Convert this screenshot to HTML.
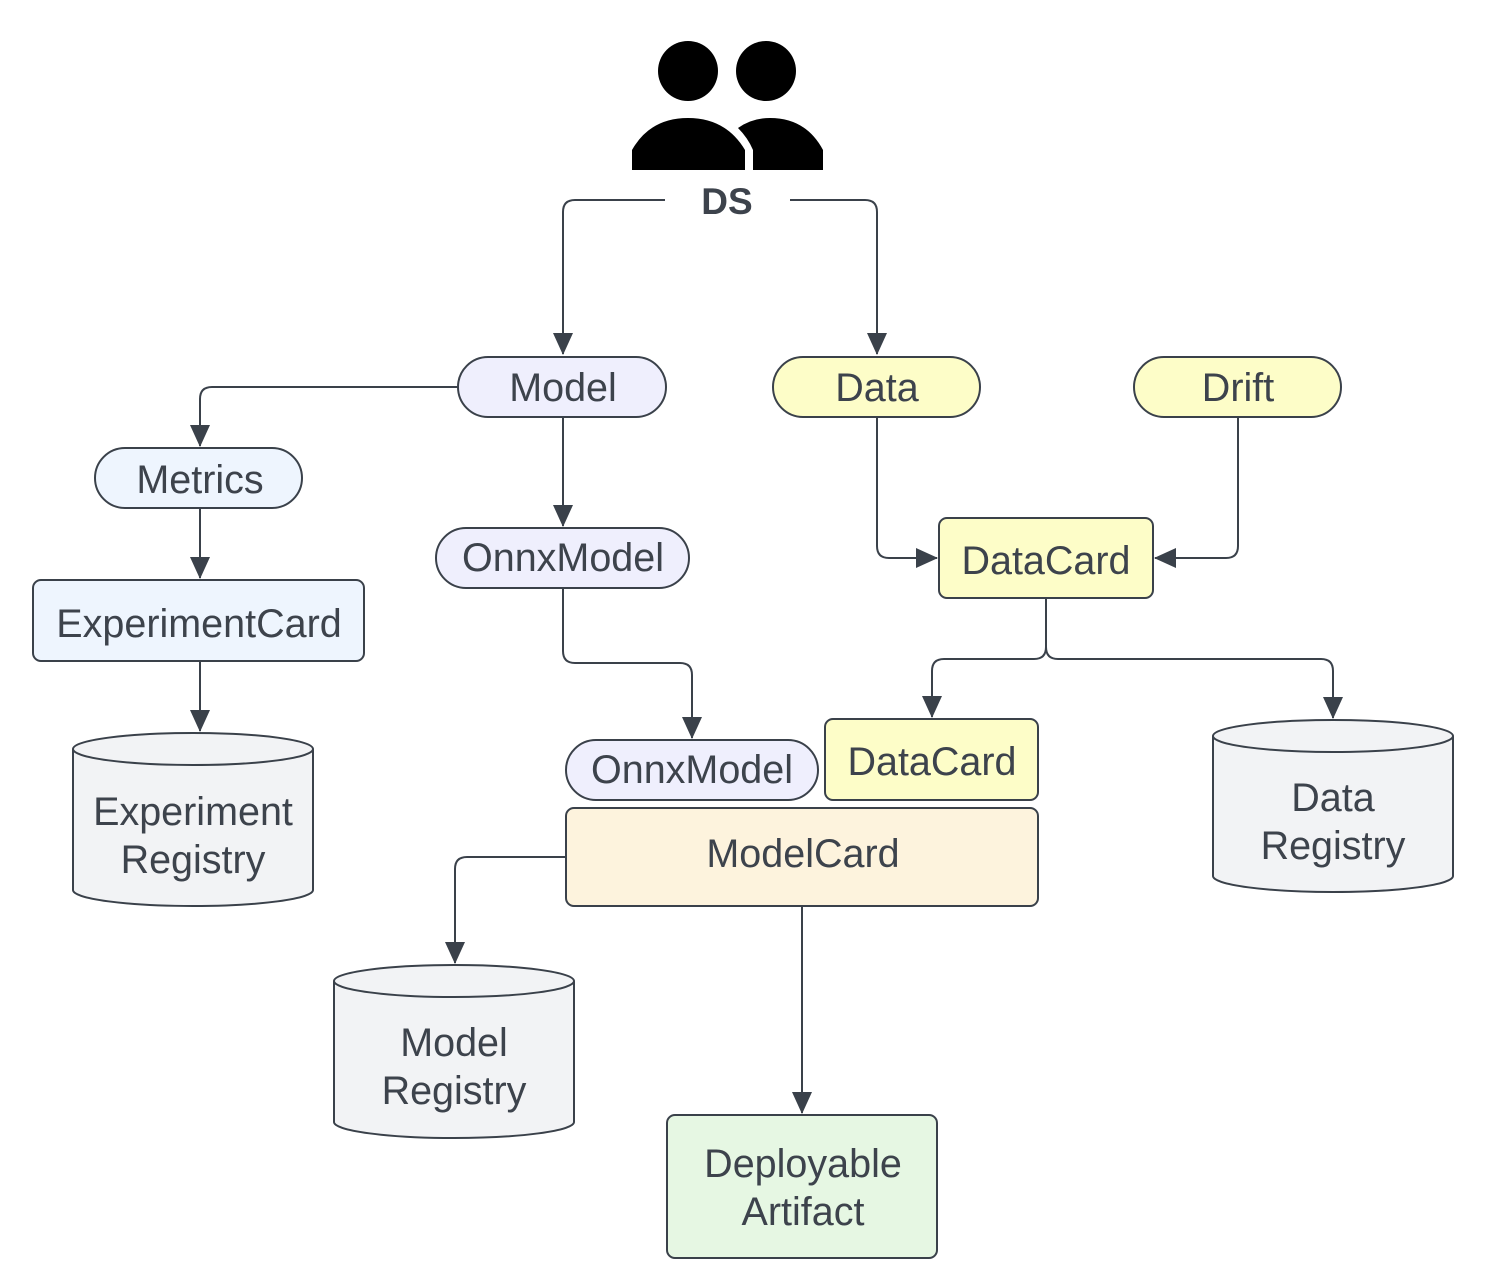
<!DOCTYPE html>
<html><head><meta charset="utf-8"><style>html,body{margin:0;padding:0;background:#fff}svg{display:block}text{font-family:"Liberation Sans",sans-serif;fill:#3d434c}</style></head><body>
<svg width="1488" height="1280" viewBox="0 0 1488 1280" xmlns="http://www.w3.org/2000/svg">
<defs>
<marker id="r" viewBox="0 0 22 20" refX="21" refY="10" markerWidth="22" markerHeight="20" markerUnits="userSpaceOnUse" orient="auto"><path d="M0,0 L22,10 L0,20 Z" fill="#3a414a"/></marker></defs>
<g fill="#000">
<circle cx="688" cy="71" r="30"/><circle cx="766" cy="71" r="30"/>
<path d="M632,170 L632,150 Q650,118 688,118 Q726,118 745,150 L745,170 Z"/>
<path d="M753,170 L753,150 Q748,138 738,128 Q752,118 770,118 Q806,118 823,150 L823,170 Z"/>
</g>
<text x="727" y="214" font-size="37" font-weight="bold" text-anchor="middle">DS</text>
<g fill="none" stroke="#3a414a" stroke-width="2">
<path d="M665,200 H575 Q563,200 563,212 V354" marker-end="url(#r)"/>
<path d="M790,200 H865 Q877,200 877,212 V354" marker-end="url(#r)"/>
<path d="M458,387 H212 Q200,387 200,399 V446" marker-end="url(#r)"/>
<path d="M563,417 V526" marker-end="url(#r)"/>
<path d="M200,508 V578" marker-end="url(#r)"/>
<path d="M200,661 V731" marker-end="url(#r)"/>
<path d="M563,588 V651 Q563,663 575,663 H680 Q692,663 692,675 V738" marker-end="url(#r)"/>
<path d="M877,417 V546 Q877,558 889,558 H937" marker-end="url(#r)"/>
<path d="M1238,417 V546 Q1238,558 1226,558 H1155" marker-end="url(#r)"/>
<path d="M1046,598 V647 Q1046,659 1034,659 H944 Q932,659 932,671 V717" marker-end="url(#r)"/>
<path d="M1046,647 Q1046,659 1058,659 H1321 Q1333,659 1333,671 V718" marker-end="url(#r)"/>
<path d="M566,857 H467 Q455,857 455,869 V963" marker-end="url(#r)"/>
<path d="M802,906 V1113" marker-end="url(#r)"/>
</g>
<g stroke="#3a414a" stroke-width="2">
<rect x="458" y="357" width="208" height="60" rx="30" fill="#efeffd"/>
<rect x="773" y="357" width="207" height="60" rx="30" fill="#fdfdc8"/>
<rect x="1134" y="357" width="207" height="60" rx="30" fill="#fdfdc8"/>
<rect x="95" y="448" width="207" height="60" rx="30" fill="#eef5fe"/>
<rect x="436" y="528" width="253" height="60" rx="30" fill="#efeffd"/>
<rect x="33" y="580" width="331" height="81" rx="8" fill="#eef5fe"/>
<rect x="939" y="518" width="214" height="80" rx="8" fill="#fdfdc8"/>
<rect x="825" y="719" width="213" height="81" rx="8" fill="#fdfdc8"/>
<rect x="566" y="740" width="252" height="60" rx="30" fill="#efeffd"/>
<rect x="566" y="808" width="472" height="98" rx="8" fill="#fdf3dd"/>
<rect x="667" y="1115" width="270" height="143" rx="8" fill="#e6f7e3"/>
<path d="M73,749 V890 A120,16 0 0 0 313,890 V749 A120,16 0 0 0 73,749 Z" fill="#f2f3f5"/>
<path d="M73,749 A120,16 0 0 0 313,749" fill="none"/>
<path d="M1213,736 V876 A120,16 0 0 0 1453,876 V736 A120,16 0 0 0 1213,736 Z" fill="#f2f3f5"/>
<path d="M1213,736 A120,16 0 0 0 1453,736" fill="none"/>
<path d="M334,981 V1122 A120,16 0 0 0 574,1122 V981 A120,16 0 0 0 334,981 Z" fill="#f2f3f5"/>
<path d="M334,981 A120,16 0 0 0 574,981" fill="none"/>
</g>
<g font-size="39.5" text-anchor="middle">
<text x="563" y="401">Model</text>
<text x="877" y="401">Data</text>
<text x="1238" y="401">Drift</text>
<text x="200" y="493">Metrics</text>
<text x="563" y="571">OnnxModel</text>
<text x="199" y="637">ExperimentCard</text>
<text x="1046" y="574">DataCard</text>
<text x="932" y="775">DataCard</text>
<text x="692" y="783">OnnxModel</text>
<text x="803" y="867">ModelCard</text>
<text x="193" y="825">Experiment</text><text x="193" y="873">Registry</text>
<text x="1333" y="811">Data</text><text x="1333" y="859">Registry</text>
<text x="454" y="1056">Model</text><text x="454" y="1104">Registry</text>
<text x="803" y="1177">Deployable</text><text x="803" y="1225">Artifact</text>
</g>
</svg>
</body></html>
